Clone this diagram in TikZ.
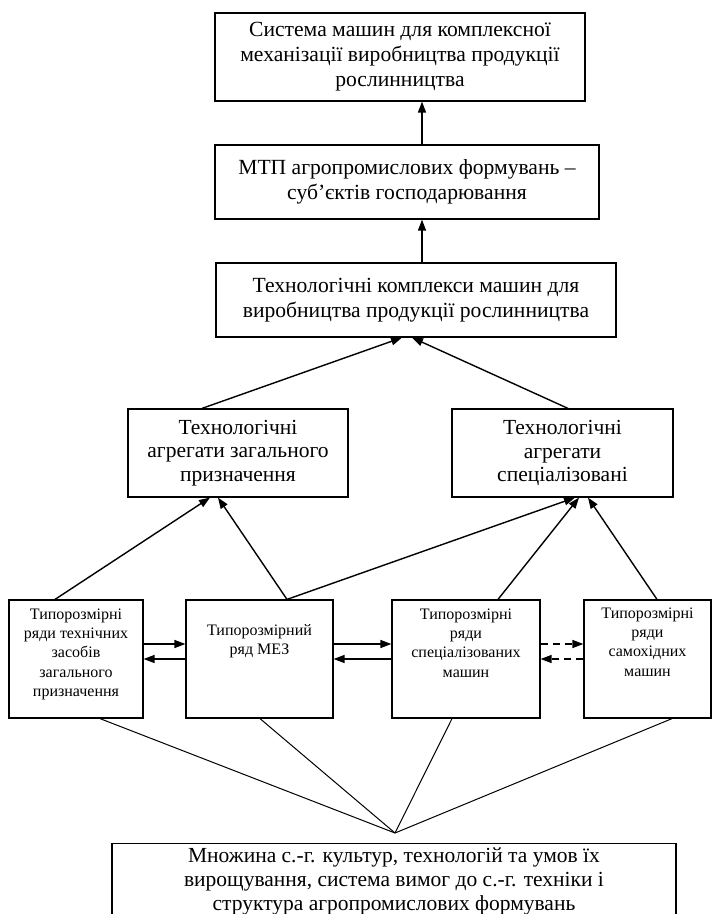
\documentclass[tikz,border=0pt]{standalone}
\usepackage{fontspec}
\setmainfont{Liberation Serif}
\usetikzlibrary{arrows.meta}
\begin{document}
\begin{tikzpicture}[x=1pt,y=-1pt,
  box/.style={draw, line width=1.2pt, inner sep=0pt},
  bigtxt/.style={font=\fontsize{21.6}{25}\selectfont, align=center},
  midtxt/.style={font=\fontsize{21.5}{23.5}\selectfont, align=center},
  smalltxt/.style={font=\fontsize{16}{19.3}\selectfont, align=center, inner sep=0pt},
  bottxt/.style={font=\fontsize{21.5}{24}\selectfont, align=center, inner sep=0pt},
  arr/.style={-{Triangle[length=11pt,width=8pt]}, line width=1.4pt},
  darr/.style={arr, dash pattern=on 7pt off 5pt},
  fan/.style={line width=1pt}]
\useasboundingbox (0,0) rectangle (712,914);
\clip (0,0) rectangle (712,914);
\fill[white] (0,0) rectangle (712,914);

% top levels
\node[box, bigtxt, minimum width=370pt, minimum height=88pt] (top) at (400,57)
  {Система машин для комплексної\\механізації виробництва продукції\\рослинництва};
\node[box, bigtxt, minimum width=384pt, minimum height=74pt] (mtp) at (407,182)
  {МТП агропромислових формувань –\\суб’єктів господарювання};
\node[box, bigtxt, minimum width=400pt, minimum height=74pt] (tc) at (416,300)
  {Технологічні комплекси машин для\\виробництва продукції рослинництва};

% aggregates
\node[box, midtxt, minimum width=220pt, minimum height=88pt] (ag) at (238,453)
  {Технологічні\\агрегати загального\\призначення};
\node[box, midtxt, minimum width=221pt, minimum height=88pt] (as) at (562.5,453)
  {Технологічні\\агрегати\\спеціалізовані};

% size series boxes
\node[box, minimum width=134pt, minimum height=118pt] (b1) at (76,659) {};
\node[box, minimum width=147pt, minimum height=118pt] (b2) at (259.5,659) {};
\node[box, minimum width=148pt, minimum height=118pt] (b3) at (466,659) {};
\node[box, minimum width=127pt, minimum height=118pt] (b4) at (647.5,659) {};
\node[smalltxt, anchor=north] (b1t) at ([yshift=-9pt]b1.north)
  {Типорозмірні\\ряди технічних\\засобів\\загального\\призначення};
\node[smalltxt, anchor=north] (b2t) at ([yshift=-25pt]b2.north)
  {Типорозмірний\\ряд МЕЗ};
\node[smalltxt, anchor=north] (b3t) at ([yshift=-9pt]b3.north)
  {Типорозмірні\\ряди\\спеціалізованих\\машин};
\node[smalltxt, anchor=north] (b4t) at ([yshift=-8pt]b4.north)
  {Типорозмірні\\ряди\\самохідних\\машин};

% bottom box
\node[box, minimum width=564pt, minimum height=110pt, anchor=north] (bot) at (394,843) {};
\node[bottxt, anchor=north] (bott) at ([yshift=-5pt]bot.north)
  {Множина с.-г. культур, технологій та умов їх\\вирощування, система вимог до с.-г. техніки і\\структура агропромислових формувань};
\coordinate (cv) at (395,833);

% vertical arrows
\draw[arr] ([xshift=15pt]mtp.north) -- ([xshift=22pt]top.south);
\draw[arr] ([xshift=6pt]tc.north) -- ([xshift=15pt]mtp.south);
\draw[arr] ([xshift=-36pt]ag.north) -- ([xshift=-14pt]tc.south);
\draw[arr] ([xshift=5.5pt]as.north) -- ([xshift=-4pt]tc.south);

\draw[arr] ([xshift=-21pt]b1.north) -- ([xshift=-28pt]ag.south);
\draw[arr] ([xshift=27.5pt]b2.north) -- ([xshift=-20pt]ag.south);
\draw[arr] ([xshift=27.5pt]b2.north) -- ([xshift=12.5pt]as.south);
\draw[arr] ([xshift=32pt]b3.north) -- ([xshift=16.5pt]as.south);
\draw[arr] ([xshift=9.5pt]b4.north) -- ([xshift=25.5pt]as.south);

% horizontal arrows
\draw[arr] (b1.east |- 0,644) -- (b2.west |- 0,644);
\draw[arr] (b2.west |- 0,659) -- (b1.east |- 0,659);
\draw[arr] (b2.east |- 0,644) -- (b3.west |- 0,644);
\draw[arr] (b3.west |- 0,659) -- (b2.east |- 0,659);
\draw[darr] (b3.east |- 0,644) -- (b4.west |- 0,644);
\draw[darr] (b4.west |- 0,659) -- (b3.east |- 0,659);

% fan lines
\draw[fan] ([xshift=24pt]b1.south) -- (cv);
\draw[fan] ([xshift=0.5pt]b2.south) -- (cv);
\draw[fan] ([xshift=-14pt]b3.south) -- (cv);
\draw[fan] ([xshift=24.5pt]b4.south) -- (cv);
\end{tikzpicture}
\end{document}
